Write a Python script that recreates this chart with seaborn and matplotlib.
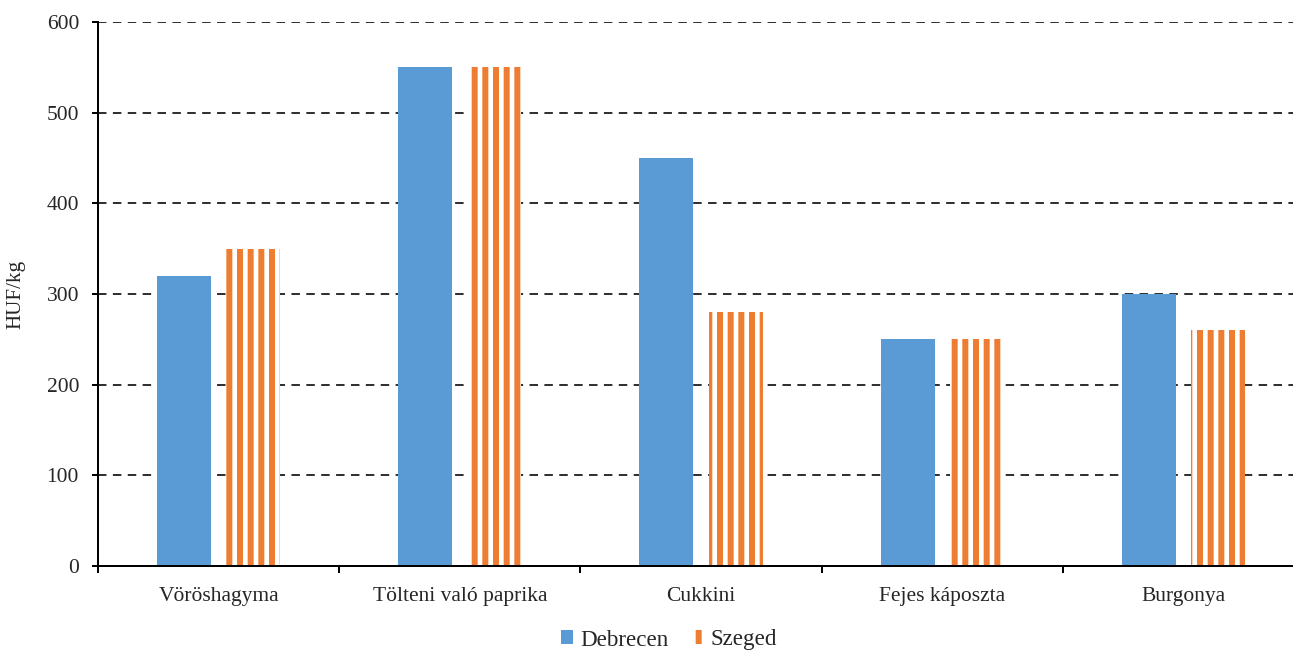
import numpy as np
import pandas as pd
import matplotlib
matplotlib.use("Agg")
import matplotlib.pyplot as plt
import seaborn as sns

termekek = ['Vöröshagyma', 'Tölteni való paprika', 'Cukkini', 'Fejes káposzta', 'Burgonya']
debrecen = [320, 550, 450, 250, 300]
szeged = [350, 550, 280, 250, 260]
varosok = ['Debrecen', 'Szeged']
y_ticks = [0, 100, 200, 300, 400, 500, 600]

BLUE = '#5B9BD5'
ORANGE = '#ED7D31'
DPI = 64
PX = 72 / DPI  # points per pixel

df = pd.DataFrame({
    'Termék': termekek * 2,
    'Ár': debrecen + szeged,
    'Város': [varosok[0]] * len(termekek) + [varosok[1]] * len(termekek),
})

sns.set_style('white')
plt.rcParams['font.family'] = ['Liberation Serif', 'DejaVu Serif']
plt.rcParams['hatch.linewidth'] = 6 * PX

fig = plt.figure(figsize=(1293 / DPI, 652 / DPI), dpi=DPI)
# axes runs a little past the right edge like the original
ax = fig.add_axes([98 / 1293, 1 - 566 / 652, (1304 - 98) / 1293, (566 - 22) / 652])

sns.barplot(data=df, x='Termék', y='Ár', hue='Város', palette=[BLUE, ORANGE],
            saturation=1, width=0.574, gap=0.22, linewidth=0, legend=False, ax=ax)

# striped Szeged bars
for p in ax.containers[1]:
    p.set_facecolor('white')
    p.set_edgecolor(ORANGE)
    p.set_hatch('|')
    p.set_linewidth(0)

fs = 21.5 * PX
ax.set_xlim(-0.5, 4.5)
ax.set_ylim(0, 600)
ax.set_yticks(y_ticks)
ax.set_xlabel('')
ax.set_ylabel('HUF/kg', fontsize=21 * PX)
ax.yaxis.set_label_coords(-0.0605, 0.5)

ax.set_axisbelow(True)
ax.yaxis.grid(True, color='black', linewidth=1.6 * PX, linestyle=(0, (5.3, 4)))
ax.xaxis.grid(False)

for s in ['top', 'right']:
    ax.spines[s].set_visible(False)
for s in ['left', 'bottom']:
    ax.spines[s].set_color('black')
    ax.spines[s].set_linewidth(2 * PX)

ax.tick_params(axis='y', which='major', direction='out', length=6 * PX, width=2 * PX,
               color='black', labelsize=fs, pad=13 * PX, left=True)
ax.set_xticks(np.arange(-0.5, 5.0, 1.0), minor=True)
ax.tick_params(axis='x', which='minor', direction='out', length=7 * PX, width=2 * PX,
               color='black', bottom=True)
ax.tick_params(axis='x', which='major', length=0, labelsize=fs, pad=21 * PX)

handles = [ax.containers[0][0], ax.containers[1][0]]
fig.legend(handles, varosok, loc='center', bbox_to_anchor=(669 / 1293, 1 - 640 / 652),
           ncol=2, frameon=False, fontsize=23 * PX, handlelength=0.55, handleheight=0.55,
           handletextpad=0.3, columnspacing=1.0, borderaxespad=0, borderpad=0)

fig.savefig('out.png', dpi=DPI)
